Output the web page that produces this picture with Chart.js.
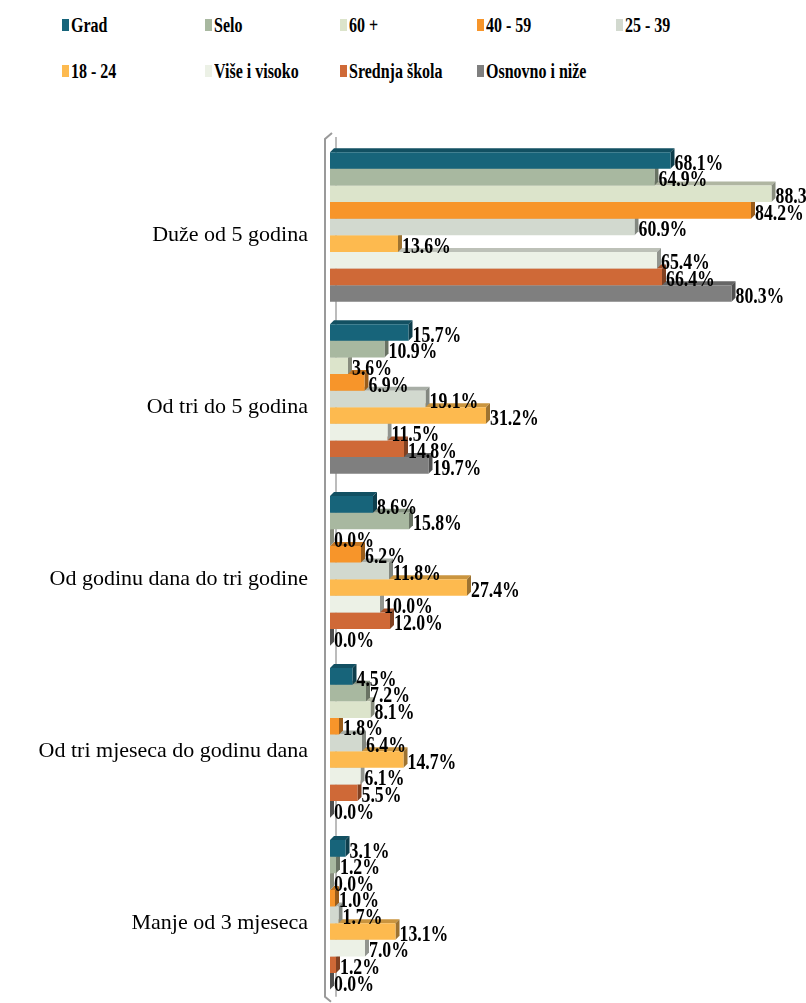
<!DOCTYPE html>
<html>
<head>
<meta charset="utf-8">
<script src="https://cdn.jsdelivr.net/npm/chart.js@4.4.1/dist/chart.umd.min.js"></script>
<style>
  body{margin:0;background:#fff;width:806px;height:1003px;overflow:hidden;position:relative;font-family:"Liberation Serif",serif;}
  #legend{position:absolute;left:62px;top:13px;display:grid;grid-template-columns:143px 135px 137px 139px 120px;row-gap:22px;}
  #legend .it{display:flex;align-items:center;font-weight:bold;font-size:20px;color:#000;white-space:nowrap;height:24px;}
  #legend .sw{width:7px;height:12px;margin-right:2px;flex:none;}
  #legend .tx{display:inline-block;transform:scaleX(0.8);transform-origin:left center;}
  #wrap{position:absolute;left:0;top:100px;width:806px;height:936px;}
</style>
</head>
<body>
<div id="legend"></div>
<div id="wrap"><canvas id="barChart" width="806" height="936"></canvas></div>
<script>
var categories = ['Duže od 5 godina', 'Od tri do 5 godina', 'Od godinu dana do tri godine', 'Od tri mjeseca do godinu dana', 'Manje od 3 mjeseca'];
var seriesNames = ['Grad', 'Selo', '60 +', '40 - 59', '25 - 39', '18 - 24', 'Više i visoko', 'Srednja škola', 'Osnovno i niže'];
var seriesColors = ['#17647a', '#a8b8a0', '#dce4cb', '#f7952a', '#d2d9cf', '#fdba4f', '#ecf1e6', '#cf6937', '#7f7f7f'];

var grad     = [68.1, 15.7, 8.6, 4.5, 3.1];
var selo     = [64.9, 10.9, 15.8, 7.2, 1.2];
var age60    = [88.3, 3.6, 0.0, 8.1, 0.0];
var age4059  = [84.2, 6.9, 6.2, 1.8, 1.0];
var age2539  = [60.9, 19.1, 11.8, 6.4, 1.7];
var age1824  = [13.6, 31.2, 27.4, 14.7, 13.1];
var visoko   = [65.4, 11.5, 10.0, 6.1, 7.0];
var srednja  = [66.4, 14.8, 12.0, 5.5, 1.2];
var osnovno  = [80.3, 19.7, 0.0, 0.0, 0.0];

var seriesValues = [grad, selo, age60, age4059, age2539, age1824, visoko, srednja, osnovno];
var DEPTH = 4;

function shade(hex, f){
    var n = parseInt(hex.slice(1), 16);
    var r = Math.round(((n >> 16) & 255) * f), g = Math.round(((n >> 8) & 255) * f), b = Math.round((n & 255) * f);
    return 'rgb(' + r + ',' + g + ',' + b + ')';
}

// 3D faces drawn just before each dataset so the bar above covers them
var bar3d = {
    id: 'bar3d',
    beforeDraw: function(chart){
        var a = chart.chartArea, ctx = chart.ctx;
        ctx.save();
        ctx.strokeStyle = '#a6a6a6';
        ctx.lineWidth = 1.5;
        ctx.beginPath();
        ctx.moveTo(a.left + 6, a.top - 4);
        ctx.lineTo(a.left + 6, a.bottom - 4);
        ctx.stroke();
        ctx.restore();
    },
    beforeDatasetDraw: function(chart, args){
        var ctx = chart.ctx, color = seriesColors[args.index];
        ctx.save();
        args.meta.data.forEach(function(bar){
            var top = bar.y - bar.height / 2, bottom = bar.y + bar.height / 2, x = bar.x, left = bar.base;
            ctx.fillStyle = shade(color, 0.8);
            ctx.beginPath();
            ctx.moveTo(left, top); ctx.lineTo(left + DEPTH, top - DEPTH);
            ctx.lineTo(x + DEPTH, top - DEPTH); ctx.lineTo(x, top); ctx.closePath(); ctx.fill();
            ctx.fillStyle = shade(color, 0.62);
            ctx.beginPath();
            ctx.moveTo(x, top); ctx.lineTo(x + DEPTH, top - DEPTH);
            ctx.lineTo(x + DEPTH, bottom - DEPTH); ctx.lineTo(x, bottom); ctx.closePath(); ctx.fill();
        });
        ctx.restore();
    },
    afterDatasetsDraw: function(chart){
        var a = chart.chartArea, ctx = chart.ctx;
        ctx.save();
        ctx.strokeStyle = '#9a9a9a';
        ctx.lineWidth = 2;
        ctx.beginPath();
        ctx.moveTo(a.left + 2, a.top - 8);
        ctx.lineTo(a.left - 5, a.top - 2);
        ctx.lineTo(a.left - 5, a.bottom - 4);
        ctx.lineTo(a.left + 1, a.bottom + 1);
        ctx.stroke();
        // value labels
        ctx.fillStyle = '#000';
        ctx.font = 'bold 24px "Liberation Serif", serif';
        ctx.textBaseline = 'middle';
        ctx.textAlign = 'left';
        chart.data.datasets.forEach(function(ds, i){
            chart.getDatasetMeta(i).data.forEach(function(bar, j){
                ctx.save();
                ctx.translate(bar.x + DEPTH, bar.y + 3);
                ctx.scale(0.74, 1);
                ctx.fillText(ds.data[j].toFixed(1) + '%', 0, 0);
                ctx.restore();
            });
        });
        ctx.restore();
    }
};

var datasets = seriesNames.map(function(name, i){
    return { label: name, data: seriesValues[i], backgroundColor: seriesColors[i], borderWidth: 0, barPercentage: 1.0, categoryPercentage: 0.87 };
});

var chart = new Chart(document.getElementById('barChart'), {
    type: 'bar',
    data: { labels: categories, datasets: datasets },
    options: {
        indexAxis: 'y',
        responsive: false,
        animation: false,
        layout: { padding: { top: 41, bottom: 2, right: 1, left: 0 } },
        plugins: { legend: { display: false }, tooltip: { enabled: false } },
        scales: {
            x: { min: 0, max: 95, display: false },
            y: {
                grid: { display: false, drawTicks: false },
                border: { display: false },
                ticks: { color: '#000', padding: 22, labelOffset: 8, font: { family: '"Liberation Serif", serif', size: 22 } },
                afterFit: function(scale){ scale.width = 330; }
            }
        }
    },
    plugins: [bar3d]
});

var legendEl = document.getElementById('legend');
chart.data.datasets.forEach(function(ds){
    var it = document.createElement('div');
    it.className = 'it';
    it.innerHTML = '<span class="sw" style="background:' + ds.backgroundColor + '"></span><span class="tx">' + ds.label + '</span>';
    legendEl.appendChild(it);
});
</script>
</body>
</html>
